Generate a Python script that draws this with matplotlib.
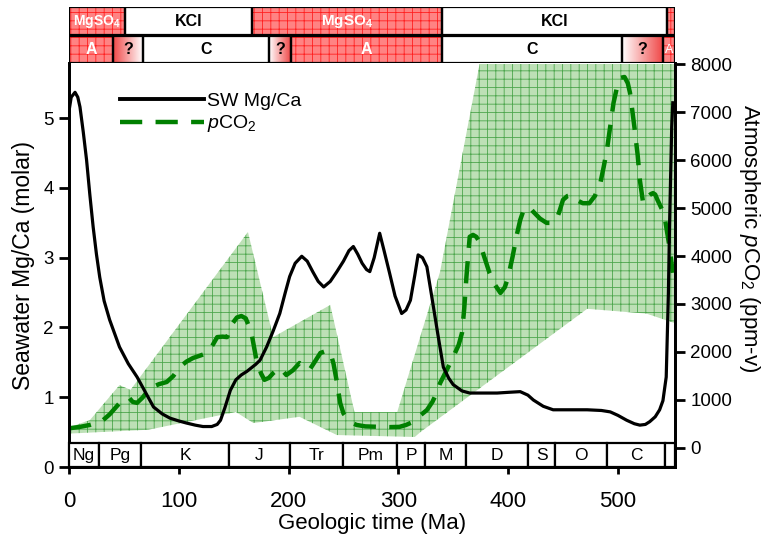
import numpy as np
import matplotlib
matplotlib.use('Agg')
import matplotlib.pyplot as plt
from matplotlib.patches import Rectangle
from matplotlib.lines import Line2D
from matplotlib.colors import LinearSegmentedColormap

plt.rcParams['font.family'] = ['Liberation Sans', 'DejaVu Sans']
plt.rcParams['mathtext.fontset'] = 'custom'
plt.rcParams['mathtext.rm'] = 'Liberation Sans'
plt.rcParams['mathtext.it'] = 'Liberation Sans:italic'
plt.rcParams['mathtext.bf'] = 'Liberation Sans:bold'
plt.rcParams['hatch.linewidth'] = 0.6

# seawater Mg/Ca (molar) vs age (Ma)
mgca_age = [0, 2, 5.5, 8, 10, 13, 16, 19, 22, 25, 28, 32, 37, 46, 54, 62, 70, 77, 85, 92,
            100, 107, 115, 122, 130, 135, 138, 142, 147, 152, 157, 162, 166, 170, 174, 180,
            186, 192, 197, 201, 206, 212, 217, 222, 227, 232, 238, 244, 250, 255, 259, 263,
            267, 271, 274, 278, 283, 287, 292, 297, 303, 307, 311, 315, 318, 322, 326, 332,
            336, 341, 346, 350, 358, 365, 380, 390, 400, 411, 418, 423, 432, 441, 455, 472,
            485, 493, 500, 508, 515, 520, 525, 529, 534, 538, 541, 544, 546, 547, 549, 550]
mgca = [5.1, 5.3, 5.37, 5.3, 5.16, 4.8, 4.4, 3.9, 3.44, 3.05, 2.72, 2.38, 2.11, 1.72, 1.48,
        1.29, 1.06, 0.86, 0.76, 0.70, 0.66, 0.63, 0.60, 0.58, 0.58, 0.61, 0.67, 0.85, 1.10,
        1.25, 1.32, 1.37, 1.42, 1.47, 1.53, 1.72, 1.95, 2.2, 2.5, 2.73, 2.92, 3.02, 2.95,
        2.8, 2.66, 2.58, 2.66, 2.8, 2.95, 3.1, 3.16, 3.05, 2.92, 2.83, 2.8, 3.0, 3.35, 3.1,
        2.78, 2.45, 2.2, 2.25, 2.39, 2.75, 3.04, 3.0, 2.87, 2.29, 1.9, 1.43, 1.27, 1.18,
        1.09, 1.06, 1.06, 1.06, 1.07, 1.08, 1.03, 0.96, 0.87, 0.82, 0.82, 0.82, 0.81, 0.79,
        0.74, 0.67, 0.62, 0.60, 0.61, 0.65, 0.72, 0.82, 0.95, 1.29, 2.5, 3.44, 4.87, 5.22]

# atmospheric pCO2 (ppm-v) vs age (Ma)
co2_age = [0, 10, 19, 25, 31, 37, 42, 47, 51, 55, 58, 62, 67, 74, 82, 89, 95, 101, 107, 113,
           120, 126, 131, 135, 140, 144, 149, 153, 157, 161, 166, 171, 175, 178, 182, 186,
           192, 195, 198, 204, 210, 215, 219, 224, 229, 234, 238, 241, 244, 247, 250, 253,
           258, 262, 270, 283, 292, 301, 307, 313, 320, 326, 331, 335, 338, 344, 350, 355,
           358, 360, 362, 365, 368, 371, 374, 378, 383, 388, 393, 397, 400, 404, 408, 411,
           414, 417, 420, 423, 429, 435, 440, 444, 447, 450, 454, 458, 462, 468, 474, 479,
           484, 487, 490, 493, 496, 499, 502, 506, 509, 511, 513, 515, 518, 520, 523, 525,
           527, 530, 532, 534, 536, 540, 543, 547, 550]
co2 = [410, 440, 480, 520, 580, 700, 830, 960, 1040, 1040, 960, 940, 1050, 1250, 1330, 1375,
       1500, 1690, 1800, 1875, 1930, 1980, 2150, 2310, 2320, 2310, 2600, 2720, 2750, 2700,
       2420, 1800, 1550, 1420, 1460, 1560, 1670, 1600, 1520, 1620, 1770, 1700, 1625, 1800,
       1980, 2020, 2000, 1750, 1375, 940, 720, 625, 520, 480, 450, 440, 435, 440, 480, 540,
       680, 790, 960, 1150, 1350, 1620, 1900, 2150, 2400, 2900, 3560, 4400, 4440, 4400,
       4290, 4000, 3650, 3400, 3230, 3350, 3560, 3980, 4450, 4750, 4950, 5020, 5000, 4920,
       4780, 4690, 4690, 4750, 4950, 5170, 5250, 5270, 5170, 5100, 5100, 5250, 5520, 5850,
       6210, 6700, 7190, 7500, 7710, 7730, 7600, 7400, 7050, 6690, 6100, 5580, 5100, 5130,
       5230, 5290, 5310, 5280, 5170, 4980, 4750, 4190, 3650]

# pCO2 uncertainty envelope
band_up_age = [0, 19, 46, 56, 163, 186, 238, 260, 299, 338, 374, 552]
band_up = [430, 580, 1310, 1210, 4500, 2310, 2980, 750, 750, 3670, 8000, 8000]
band_low_age = [0, 72, 152, 168, 210, 244, 315, 320, 472, 526, 552]
band_low = [300, 380, 750, 520, 650, 270, 230, 330, 2900, 2800, 2600]

# geologic periods
periods = ['Ng', 'Pg', 'K', 'J', 'Tr', 'Pm', 'P', 'M', 'D', 'S', 'O', 'C', '']
period_edges = [0, 27, 66, 146, 201, 250, 299, 324, 362, 418, 443, 490, 543, 552]

# evaporite mineralogy and carbonate mineralogy (top bars)
evap_labels = ['MgSO4', 'KCl', 'MgSO4', 'KCl', 'MgSO4']
evap_edges = [0, 51, 167, 340, 545, 552]
carb_labels = ['A', '?', 'C', '?', 'A', 'C', '?', 'A']
carb_edges = [0, 40, 67, 182, 202, 340, 504, 541, 552]

RED = '#ff8383'
RED_HATCH = '#ff2020'
GREEN = '#008000'

fig = plt.figure(figsize=(7.67, 5.36), dpi=100)
L, R = 69 / 767, 675 / 767
ax = fig.add_axes([L, 69 / 536, R - L, 404 / 536])
ax2 = ax.twinx()
ax.set_zorder(ax2.get_zorder() + 1)
ax.patch.set_visible(False)

# envelope
poly_x = np.concatenate([band_up_age, band_low_age[::-1]])
poly_y = np.concatenate([band_up, band_low[::-1]])
ax2.fill(poly_x, poly_y, facecolor='#bde0b6', edgecolor='#4da64d', hatch='++', linewidth=0, zorder=1)
ax2.plot(co2_age, co2, color=GREEN, lw=3.2, dashes=(5, 3), zorder=3)

ax.plot(mgca_age, mgca, color='black', lw=2.3, zorder=4)

# period bar
for s, e, lab in zip(period_edges[:-1], period_edges[1:], periods):
    ax.add_patch(Rectangle((s, 0), e - s, 0.344, facecolor='white', edgecolor='black',
                           lw=1.6, zorder=6, clip_on=False))
    ax.text((s + e) / 2, 0.17, lab, ha='center', va='center', fontsize=12.5, zorder=7)

ax.set_xlim(0, 552)
ax.set_ylim(0, 5.79)
ax2.set_ylim(-396, 8021)
ax.set_xticks(range(0, 600, 100))
ax.set_yticks(range(0, 6))
ax2.set_yticks(range(0, 9000, 1000))

for a in (ax, ax2):
    a.spines['top'].set_visible(False)
    for sp in ('left', 'right', 'bottom'):
        a.spines[sp].set_linewidth(2)
ax.tick_params(axis='x', direction='out', length=5, width=2, labelsize=16, pad=12)
ax.tick_params(axis='y', direction='out', length=7, width=2, labelsize=13.5, pad=4)
ax2.tick_params(axis='y', direction='out', length=7, width=2, labelsize=13.5, pad=4)

ax.set_xlabel('Geologic time (Ma)', fontsize=16, labelpad=1)
ax.set_ylabel('Seawater Mg/Ca (molar)', fontsize=16.5, labelpad=6)
ax2.set_ylabel(r'Atmospheric $p$CO$_2$ (ppm-v)', fontsize=16, rotation=270, labelpad=22)
ax2.yaxis.set_label_coords(1.143, 0.567)

handles = [Line2D([], [], color='black', lw=2.8),
           Line2D([], [], color=GREEN, lw=3.2, dashes=(5, 3))]
ax.legend(handles, ['SW Mg/Ca', r'$p$CO$_2$'], loc='upper left',
          bbox_to_anchor=(120 / 767, 1 - 92 / 536), bbox_transform=fig.transFigure,
          frameon=False, fontsize=14, handlelength=4.3, handletextpad=0.15,
          labelspacing=0.2, borderpad=0, borderaxespad=0)

# top bars
axt = fig.add_axes([L, 1 - 63 / 536, R - L, 56 / 536])
axt.set_xlim(0, 552)
axt.set_ylim(0, 2)
axt.axis('off')

grad = np.linspace(0, 1, 100).reshape(1, -1)
cmap = LinearSegmentedColormap.from_list('wr', ['white', '#f04848'])


def draw_row(edges, labels, y0, h):
    for i, (s, e, lab) in enumerate(zip(edges[:-1], edges[1:], labels)):
        if lab in ('MgSO4', 'A'):
            axt.add_patch(Rectangle((s, y0), e - s, h, facecolor=RED, edgecolor=RED_HATCH,
                                    hatch='++', lw=0, zorder=1))
        elif lab == '?':
            left_red = i > 0 and labels[i - 1] == 'A'
            g = grad[:, ::-1] if left_red else grad
            axt.imshow(g, cmap=cmap, extent=[s, e, y0, y0 + h], aspect='auto', zorder=1)
        else:
            axt.add_patch(Rectangle((s, y0), e - s, h, facecolor='white', lw=0, zorder=1))
        axt.add_patch(Rectangle((s, y0), e - s, h, facecolor='none', edgecolor='black',
                                lw=1.6, zorder=3))
        w = e - s
        cx, cy = (s + e) / 2, y0 + h / 2
        if lab == 'MgSO4' and w > 20:
            axt.text(cx, cy, r'MgSO$_\mathbf{4}$', color='white', fontweight='bold',
                     fontsize=11 if w > 60 else 10, ha='center', va='center', zorder=4)
        elif lab == 'A':
            axt.text(cx, cy, 'A', color='white', fontweight='bold' if w > 20 else 'normal',
                     fontsize=11.5 if w > 20 else 9, ha='center', va='center', zorder=4)
        elif lab in ('KCl', 'C', '?'):
            axt.text(cx, cy, lab, color='black', fontweight='bold', fontsize=11.5,
                     ha='center', va='center', zorder=4)


draw_row(evap_edges, evap_labels, 1.0, 1.0)
draw_row(carb_edges, carb_labels, 0.0, 0.95)
axt.set_ylim(0, 2)

fig.savefig('out.png', dpi=100)
